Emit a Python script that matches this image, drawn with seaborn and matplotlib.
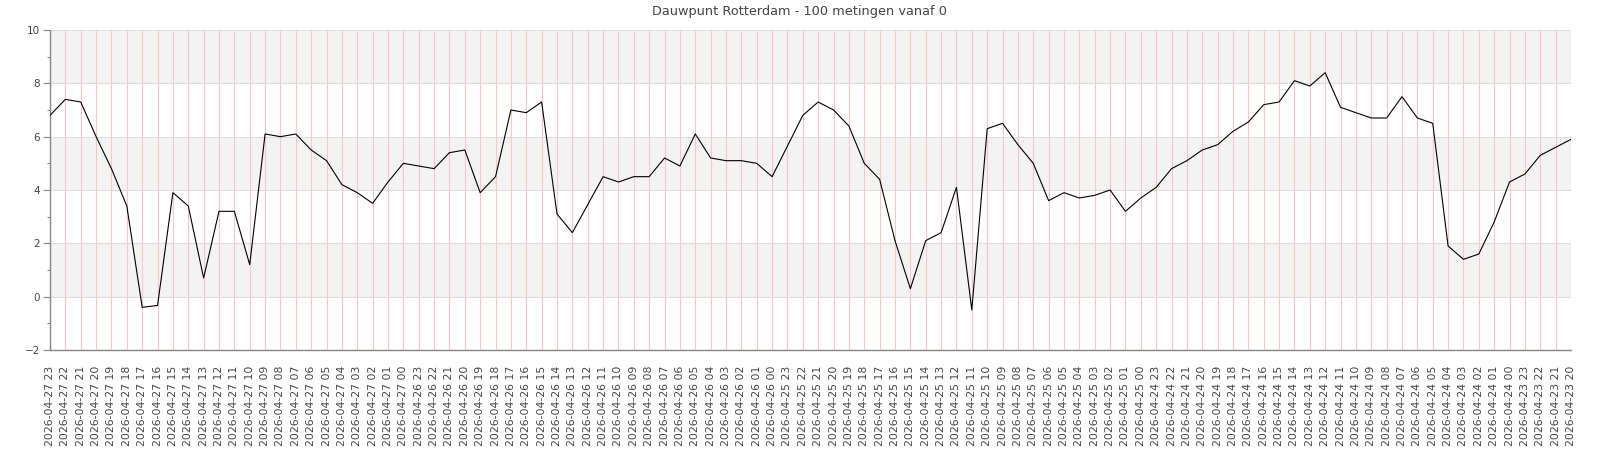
import matplotlib
matplotlib.use("Agg")
import matplotlib.pyplot as plt
import numpy as np
import pandas as pd
import seaborn as sns

# dew point readings, newest first (2026-04-27 23h back to 2026-04-23 20h)
dauwpunt = [
    6.8, 7.4, 7.3, 6.0, 4.8, 3.4, -0.4, -0.33, 3.9, 3.4,
    0.7, 3.2, 3.2, 1.2, 6.1, 6.0, 6.1, 5.5, 5.1, 4.2,
    3.9, 3.5, 4.3, 5.0, 4.9, 4.8, 5.4, 5.5, 3.9, 4.5,
    7.0, 6.9, 7.3, 3.1, 2.4, 3.45, 4.5, 4.3, 4.5, 4.5,
    5.2, 4.9, 6.1, 5.2, 5.1, 5.1, 5.0, 4.5, 5.65, 6.8,
    7.3, 7.0, 6.4, 5.0, 4.4, 2.1, 0.3, 2.1, 2.4, 4.1,
    -0.5, 6.3, 6.5, 5.7, 5.0, 3.6, 3.9, 3.7, 3.8, 4.0,
    3.2, 3.7, 4.1, 4.8, 5.1, 5.5, 5.7, 6.2, 6.55, 7.2,
    7.3, 8.1, 7.9, 8.4, 7.1, 6.9, 6.7, 6.7, 7.5, 6.7,
    6.5, 1.9, 1.4, 1.6, 2.8, 4.3, 4.6, 5.3, 5.6, 5.9,
]
tijden = pd.date_range(end="2026-04-27 23:00", periods=len(dauwpunt), freq="h")[::-1]
tick_labels = [t.strftime("%Y-%m-%d %H") for t in tijden]

titel = "Dauwpunt Rotterdam - 100 metingen vanaf 0"
y_min, y_max = -2, 10

df = pd.DataFrame({"pos": np.arange(len(dauwpunt)), "dauwpunt": dauwpunt})

sns.set_style("white")
plt.rcParams["font.family"] = ["DejaVu Sans"]

fig = plt.figure(figsize=(16, 4.5), dpi=100)
ax = fig.add_axes([50 / 1600, 100 / 450, 1521 / 1600, 320 / 450])

# alternating grey bands
for lo in range(y_min, y_max, 2):
    if (lo // 2) % 2 == 0:
        ax.axhspan(lo, lo + 2, color="#f3f3f3", zorder=0, lw=0)

sns.lineplot(data=df, x="pos", y="dauwpunt", color="black", lw=0.8, ax=ax, zorder=3)

ax.set_xlim(0, len(dauwpunt) - 1)
ax.set_ylim(y_min, y_max)
ax.set_yticks(range(y_min, y_max + 1, 2))
ax.set_yticks(range(y_min + 1, y_max, 2), minor=True)
ax.set_xticks(df["pos"])
ax.set_xticklabels(tick_labels, rotation=90, fontsize=7.8, color="#444444")

for p in df["pos"]:
    ax.axvline(p, color="#ffc4c4", lw=0.8, zorder=1)
for yv in range(y_min, y_max + 1, 2):
    ax.axhline(yv, color="#dddddd", lw=0.8, zorder=1)

ax.tick_params(axis="y", which="major", length=5, width=0.8, color="#888888",
               labelsize=7.5, labelcolor="#444444", left=True, pad=2)
ax.tick_params(axis="y", which="minor", length=2.5, width=0.8, color="#888888", left=True)
ax.tick_params(axis="x", length=0, pad=11)

for side in ["top", "right"]:
    ax.spines[side].set_visible(False)
for side in ["left", "bottom"]:
    ax.spines[side].set_color("#888888")
    ax.spines[side].set_linewidth(1)

ax.set_xlabel("")
ax.set_ylabel("")
fig.suptitle(titel, x=800 / 1600, y=1 - 12 / 450, va="center", fontsize=9.3, color="#444444")

fig.savefig("out.png", dpi=100)
plt.close(fig)
